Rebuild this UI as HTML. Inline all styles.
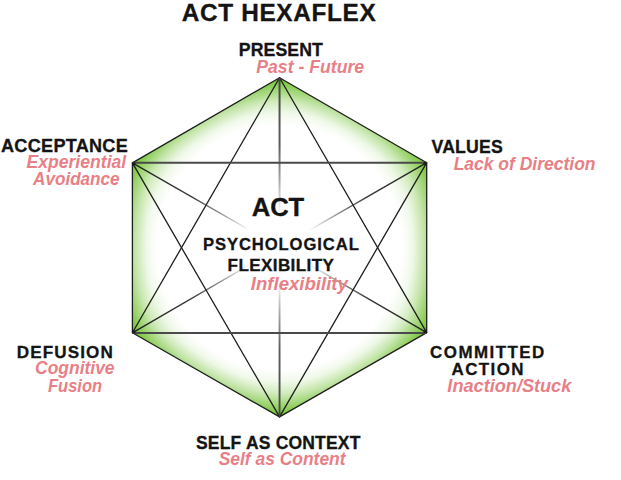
<!DOCTYPE html>
<html><head><meta charset="utf-8"><style>
html,body{margin:0;padding:0;background:#fff;width:621px;height:480px;overflow:hidden}
svg{display:block}
</style></head><body>
<svg width="621" height="480" viewBox="0 0 621 480">
<defs>
<linearGradient id="d0" gradientUnits="userSpaceOnUse" x1="279.55" y1="77.70" x2="279.55" y2="247.30"><stop offset="0" stop-color="#4a4a4a" stop-opacity="1"/><stop offset="0.4" stop-color="#4a4a4a" stop-opacity="0.9"/><stop offset="0.6" stop-color="#4a4a4a" stop-opacity="0.5"/><stop offset="0.8" stop-color="#4a4a4a" stop-opacity="0"/></linearGradient>
<linearGradient id="d1" gradientUnits="userSpaceOnUse" x1="426.70" y1="162.70" x2="279.55" y2="247.30"><stop offset="0" stop-color="#222" stop-opacity="1"/><stop offset="0.4" stop-color="#222" stop-opacity="0.9"/><stop offset="0.6" stop-color="#222" stop-opacity="0.5"/><stop offset="0.8" stop-color="#222" stop-opacity="0"/></linearGradient>
<linearGradient id="d2" gradientUnits="userSpaceOnUse" x1="426.70" y1="332.60" x2="279.55" y2="247.30"><stop offset="0" stop-color="#222" stop-opacity="1"/><stop offset="0.4" stop-color="#222" stop-opacity="0.9"/><stop offset="0.6" stop-color="#222" stop-opacity="0.5"/><stop offset="0.8" stop-color="#222" stop-opacity="0"/></linearGradient>
<linearGradient id="d3" gradientUnits="userSpaceOnUse" x1="279.55" y1="416.90" x2="279.55" y2="247.30"><stop offset="0" stop-color="#4a4a4a" stop-opacity="1"/><stop offset="0.4" stop-color="#4a4a4a" stop-opacity="0.9"/><stop offset="0.6" stop-color="#4a4a4a" stop-opacity="0.5"/><stop offset="0.8" stop-color="#4a4a4a" stop-opacity="0"/></linearGradient>
<linearGradient id="d4" gradientUnits="userSpaceOnUse" x1="132.40" y1="332.80" x2="279.55" y2="247.30"><stop offset="0" stop-color="#222" stop-opacity="1"/><stop offset="0.4" stop-color="#222" stop-opacity="0.9"/><stop offset="0.6" stop-color="#222" stop-opacity="0.5"/><stop offset="0.8" stop-color="#222" stop-opacity="0"/></linearGradient>
<linearGradient id="d5" gradientUnits="userSpaceOnUse" x1="132.40" y1="162.90" x2="279.55" y2="247.30"><stop offset="0" stop-color="#222" stop-opacity="1"/><stop offset="0.4" stop-color="#222" stop-opacity="0.9"/><stop offset="0.6" stop-color="#222" stop-opacity="0.5"/><stop offset="0.8" stop-color="#222" stop-opacity="0"/></linearGradient>
</defs>
<radialGradient id="rg" gradientUnits="userSpaceOnUse" cx="279.55" cy="247.30" r="170"><stop offset="0" stop-color="#6ec02d" stop-opacity="0"/><stop offset="0.72" stop-color="#6ec02d" stop-opacity="0"/><stop offset="0.79" stop-color="#6ec02d" stop-opacity="0.1"/><stop offset="0.86" stop-color="#6ec02d" stop-opacity="0.32"/><stop offset="0.93" stop-color="#6ec02d" stop-opacity="0.64"/><stop offset="1" stop-color="#6ec02d" stop-opacity="1"/></radialGradient>
<linearGradient id="g0" gradientUnits="userSpaceOnUse" x1="353.12" y1="120.20" x2="279.55" y2="247.30"><stop offset="0" stop-color="#6ec02d" stop-opacity="0.22"/><stop offset="0.05" stop-color="#6ec02d" stop-opacity="0.1"/><stop offset="0.1" stop-color="#6ec02d" stop-opacity="0.02"/><stop offset="0.13" stop-color="#6ec02d" stop-opacity="0"/></linearGradient>
<polygon points="279.55,77.70 426.70,162.70 279.55,247.30" fill="url(#g0)"/>
<linearGradient id="g1" gradientUnits="userSpaceOnUse" x1="426.70" y1="247.65" x2="279.55" y2="247.30"><stop offset="0" stop-color="#6ec02d" stop-opacity="0.22"/><stop offset="0.05" stop-color="#6ec02d" stop-opacity="0.1"/><stop offset="0.1" stop-color="#6ec02d" stop-opacity="0.02"/><stop offset="0.13" stop-color="#6ec02d" stop-opacity="0"/></linearGradient>
<polygon points="426.70,162.70 426.70,332.60 279.55,247.30" fill="url(#g1)"/>
<linearGradient id="g2" gradientUnits="userSpaceOnUse" x1="353.12" y1="374.75" x2="279.55" y2="247.30"><stop offset="0" stop-color="#6ec02d" stop-opacity="0.22"/><stop offset="0.05" stop-color="#6ec02d" stop-opacity="0.1"/><stop offset="0.1" stop-color="#6ec02d" stop-opacity="0.02"/><stop offset="0.13" stop-color="#6ec02d" stop-opacity="0"/></linearGradient>
<polygon points="426.70,332.60 279.55,416.90 279.55,247.30" fill="url(#g2)"/>
<linearGradient id="g3" gradientUnits="userSpaceOnUse" x1="205.98" y1="374.85" x2="279.55" y2="247.30"><stop offset="0" stop-color="#6ec02d" stop-opacity="0.22"/><stop offset="0.05" stop-color="#6ec02d" stop-opacity="0.1"/><stop offset="0.1" stop-color="#6ec02d" stop-opacity="0.02"/><stop offset="0.13" stop-color="#6ec02d" stop-opacity="0"/></linearGradient>
<polygon points="279.55,416.90 132.40,332.80 279.55,247.30" fill="url(#g3)"/>
<linearGradient id="g4" gradientUnits="userSpaceOnUse" x1="132.40" y1="247.85" x2="279.55" y2="247.30"><stop offset="0" stop-color="#6ec02d" stop-opacity="0.22"/><stop offset="0.05" stop-color="#6ec02d" stop-opacity="0.1"/><stop offset="0.1" stop-color="#6ec02d" stop-opacity="0.02"/><stop offset="0.13" stop-color="#6ec02d" stop-opacity="0"/></linearGradient>
<polygon points="132.40,332.80 132.40,162.90 279.55,247.30" fill="url(#g4)"/>
<linearGradient id="g5" gradientUnits="userSpaceOnUse" x1="205.98" y1="120.30" x2="279.55" y2="247.30"><stop offset="0" stop-color="#6ec02d" stop-opacity="0.22"/><stop offset="0.05" stop-color="#6ec02d" stop-opacity="0.1"/><stop offset="0.1" stop-color="#6ec02d" stop-opacity="0.02"/><stop offset="0.13" stop-color="#6ec02d" stop-opacity="0"/></linearGradient>
<polygon points="132.40,162.90 279.55,77.70 279.55,247.30" fill="url(#g5)"/>
<polygon points="279.55,77.70 426.70,162.70 426.70,332.60 279.55,416.90 132.40,332.80 132.40,162.90" fill="url(#rg)"/>
<polygon points="279.55,77.70 426.70,162.70 426.70,332.60 279.55,416.90 132.40,332.80 132.40,162.90" stroke="#1e1e1e" stroke-width="1.3" fill="none" stroke-linejoin="round"/>
<line x1="279.55" y1="77.70" x2="426.70" y2="332.60" stroke="#1e1e1e" stroke-width="1.3" stroke-linecap="round"/>
<line x1="279.55" y1="77.70" x2="132.40" y2="332.80" stroke="#1e1e1e" stroke-width="1.3" stroke-linecap="round"/>
<line x1="279.55" y1="416.90" x2="132.40" y2="162.90" stroke="#1e1e1e" stroke-width="1.3" stroke-linecap="round"/>
<line x1="279.55" y1="416.90" x2="426.70" y2="162.70" stroke="#1e1e1e" stroke-width="1.3" stroke-linecap="round"/>
<line x1="132.40" y1="162.7" x2="426.70" y2="162.7" stroke="#4a4a4a" stroke-width="1.9"/>
<line x1="132.40" y1="333.0" x2="426.70" y2="333.0" stroke="#4a4a4a" stroke-width="1.9"/>
<circle cx="279.55" cy="79.50" r="1.6" fill="#111"/>
<circle cx="425.14" cy="163.60" r="1.6" fill="#111"/>
<circle cx="425.14" cy="331.70" r="1.6" fill="#111"/>
<circle cx="279.55" cy="415.10" r="1.6" fill="#111"/>
<circle cx="133.96" cy="331.90" r="1.6" fill="#111"/>
<circle cx="133.96" cy="163.80" r="1.6" fill="#111"/>
<line x1="279.55" y1="77.70" x2="279.55" y2="247.30" stroke="url(#d0)" stroke-width="2.0"/>
<line x1="426.70" y1="162.70" x2="279.55" y2="247.30" stroke="url(#d1)" stroke-width="1.4"/>
<line x1="426.70" y1="332.60" x2="279.55" y2="247.30" stroke="url(#d2)" stroke-width="1.4"/>
<line x1="279.55" y1="416.90" x2="279.55" y2="247.30" stroke="url(#d3)" stroke-width="1.9"/>
<line x1="132.40" y1="332.80" x2="279.55" y2="247.30" stroke="url(#d4)" stroke-width="1.4"/>
<line x1="132.40" y1="162.90" x2="279.55" y2="247.30" stroke="url(#d5)" stroke-width="1.4"/>
<text x="181.87" y="20.90" font-size="24.35" textLength="193.76" lengthAdjust="spacing" style="font-family:'Liberation Sans',sans-serif;font-weight:bold;fill:#141414;stroke:#141414;stroke-width:0.3">ACT HEXAFLEX</text>
<text x="238.87" y="56.30" font-size="17.66" textLength="83.93" lengthAdjust="spacing" style="font-family:'Liberation Sans',sans-serif;font-weight:bold;fill:#141414;stroke:#141414;stroke-width:0.3">PRESENT</text>
<text x="256.25" y="72.90" font-size="17.59" textLength="107.89" lengthAdjust="spacingAndGlyphs" style="font-family:'Liberation Sans',sans-serif;font-weight:bold;font-style:italic;fill:#e97f86;stroke:#e97f86;stroke-width:0">Past - Future</text>
<text x="1.02" y="151.70" font-size="18.10" textLength="126.77" lengthAdjust="spacing" style="font-family:'Liberation Sans',sans-serif;font-weight:bold;fill:#141414;stroke:#141414;stroke-width:0.3">ACCEPTANCE</text>
<text x="26.50" y="167.90" font-size="17.59" textLength="99.69" lengthAdjust="spacingAndGlyphs" style="font-family:'Liberation Sans',sans-serif;font-weight:bold;font-style:italic;fill:#e97f86;stroke:#e97f86;stroke-width:0">Experiential</text>
<text x="33.09" y="185.30" font-size="17.59" textLength="86.49" lengthAdjust="spacingAndGlyphs" style="font-family:'Liberation Sans',sans-serif;font-weight:bold;font-style:italic;fill:#e97f86;stroke:#e97f86;stroke-width:0">Avoidance</text>
<text x="431.51" y="152.50" font-size="17.66" textLength="71.30" lengthAdjust="spacing" style="font-family:'Liberation Sans',sans-serif;font-weight:bold;fill:#141414;stroke:#141414;stroke-width:0.3">VALUES</text>
<text x="453.64" y="169.80" font-size="17.73" textLength="141.88" lengthAdjust="spacingAndGlyphs" style="font-family:'Liberation Sans',sans-serif;font-weight:bold;font-style:italic;fill:#e97f86;stroke:#e97f86;stroke-width:0">Lack of Direction</text>
<text x="16.86" y="357.50" font-size="17.08" textLength="95.96" lengthAdjust="spacing" style="font-family:'Liberation Sans',sans-serif;font-weight:bold;fill:#141414;stroke:#141414;stroke-width:0.3">DEFUSION</text>
<text x="35.12" y="374.30" font-size="17.59" textLength="79.43" lengthAdjust="spacingAndGlyphs" style="font-family:'Liberation Sans',sans-serif;font-weight:bold;font-style:italic;fill:#e97f86;stroke:#e97f86;stroke-width:0">Cognitive</text>
<text x="48.04" y="391.80" font-size="17.59" textLength="54.03" lengthAdjust="spacingAndGlyphs" style="font-family:'Liberation Sans',sans-serif;font-weight:bold;font-style:italic;fill:#e97f86;stroke:#e97f86;stroke-width:0">Fusion</text>
<text x="430.12" y="357.80" font-size="16.93" textLength="114.07" lengthAdjust="spacing" style="font-family:'Liberation Sans',sans-serif;font-weight:bold;fill:#141414;stroke:#141414;stroke-width:0.3">COMMITTED</text>
<text x="451.48" y="375.20" font-size="16.93" textLength="71.99" lengthAdjust="spacing" style="font-family:'Liberation Sans',sans-serif;font-weight:bold;fill:#141414;stroke:#141414;stroke-width:0.3">ACTION</text>
<text x="447.39" y="392.20" font-size="17.59" textLength="123.92" lengthAdjust="spacingAndGlyphs" style="font-family:'Liberation Sans',sans-serif;font-weight:bold;font-style:italic;fill:#e97f86;stroke:#e97f86;stroke-width:0">Inaction/Stuck</text>
<text x="196.00" y="448.60" font-size="17.51" textLength="164.39" lengthAdjust="spacing" style="font-family:'Liberation Sans',sans-serif;font-weight:bold;fill:#141414;stroke:#141414;stroke-width:0.3">SELF AS CONTEXT</text>
<text x="218.66" y="465.40" font-size="17.59" textLength="126.91" lengthAdjust="spacingAndGlyphs" style="font-family:'Liberation Sans',sans-serif;font-weight:bold;font-style:italic;fill:#e97f86;stroke:#e97f86;stroke-width:0">Self as Content</text>
<text x="251.81" y="216.10" font-size="25.65" textLength="52.37" lengthAdjust="spacing" style="font-family:'Liberation Sans',sans-serif;font-weight:bold;fill:#141414;stroke:#141414;stroke-width:0.3">ACT</text>
<text x="202.92" y="249.90" font-size="16.64" textLength="155.89" lengthAdjust="spacing" style="font-family:'Liberation Sans',sans-serif;font-weight:bold;fill:#141414;stroke:#141414;stroke-width:0.3">PSYCHOLOGICAL</text>
<text x="227.62" y="271.10" font-size="17.08" textLength="106.22" lengthAdjust="spacing" style="font-family:'Liberation Sans',sans-serif;font-weight:bold;fill:#141414;stroke:#141414;stroke-width:0.3">FLEXIBILITY</text>
<text x="250.83" y="289.80" font-size="17.59" textLength="97.01" lengthAdjust="spacingAndGlyphs" style="font-family:'Liberation Sans',sans-serif;font-weight:bold;font-style:italic;fill:#e97f86;stroke:#e97f86;stroke-width:0">Inflexibility</text>
</svg>
</body></html>
